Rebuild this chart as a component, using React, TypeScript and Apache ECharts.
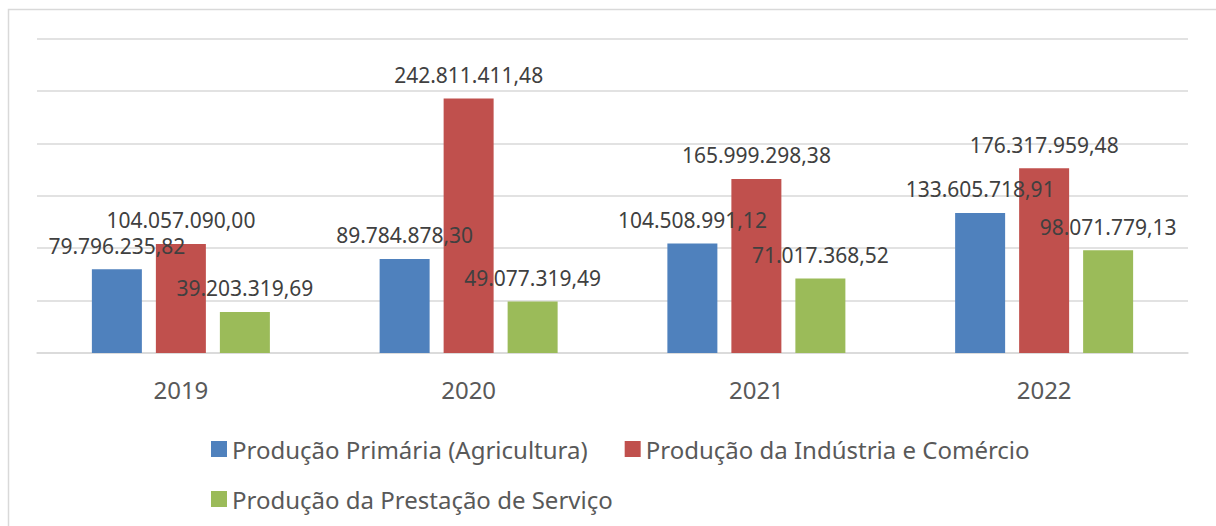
import React, { useEffect, useRef } from "react";
import * as echarts from "echarts";

const categories = ["2019", "2020", "2021", "2022"];
const seriesNames = [
  "Produção Primária (Agricultura)",
  "Produção da Indústria e Comércio",
  "Produção da Prestação de Serviço",
];
const primaria = [79796235.82, 89784878.3, 104508991.12, 133605718.91];
const industria = [104057090.0, 242811411.48, 165999298.38, 176317959.48];
const servico = [39203319.69, 49077319.49, 71017368.52, 98071779.13];
const colors = ["#4f81bd", "#c0504d", "#9bbb59"];

const FONT = "'Noto Sans', sans-serif";

function fmtBR(v: number): string {
  const fixed = v.toFixed(2);
  const [intPart, dec] = fixed.split(".");
  const withDots = intPart.replace(/\B(?=(\d{3})+(?!\d))/g, ".");
  return withDots + "," + dec;
}

export default function App() {
  const ref = useRef<HTMLDivElement>(null);
  useEffect(() => {
    if (!ref.current) return;
    const chart = echarts.init(ref.current, undefined, { renderer: "svg" });
    const datas = [primaria, industria, servico];
    chart.setOption({
      animation: false,
      backgroundColor: "#ffffff",
      textStyle: { fontFamily: FONT },
      graphic: [
        {
          type: "rect",
          shape: { x: 8.5, y: 9.5, width: 1230, height: 540 },
          style: { fill: "none", stroke: "#d9d9d9", lineWidth: 1.5 },
          silent: true,
          z: -10,
        },
      ],
      grid: { left: 37, right: 28, top: 38.5, bottom: 173 },
      xAxis: {
        type: "category",
        data: categories,
        axisLine: { show: true, lineStyle: { color: "#d9d9d9", width: 1.5 } },
        axisTick: { show: false },
        axisLabel: { color: "#595959", fontSize: 24, margin: 24, fontFamily: FONT },
      },
      yAxis: {
        type: "value",
        min: 0,
        max: 300000000,
        interval: 50000000,
        axisLabel: { show: false },
        axisLine: { show: false },
        axisTick: { show: false },
        splitLine: { lineStyle: { color: "#d9d9d9", width: 1.5 } },
      },
      legend: [
        {
          data: [seriesNames[0], seriesNames[1]],
          left: 206,
          top: 432,
          itemWidth: 16,
          itemHeight: 16,
          itemGap: 37,
          icon: "rect",
          textStyle: { color: "#595959", fontSize: 24, fontFamily: FONT },
        },
        {
          data: [seriesNames[2]],
          left: 206,
          top: 482,
          itemWidth: 16,
          itemHeight: 16,
          icon: "rect",
          textStyle: { color: "#595959", fontSize: 24, fontFamily: FONT },
        },
      ],
      series: datas.map((d, i) => ({
        name: seriesNames[i],
        type: "bar",
        data: d,
        barWidth: 50,
        barGap: "28%",
        itemStyle: { color: colors[i] },
        label: {
          show: true,
          position: "top",
          distance: 13,
          color: "#404040",
          fontSize: 21,
          fontFamily: FONT,
          formatter: (p: any) => fmtBR(p.value),
        },
      })),
    });
    return () => chart.dispose();
  }, []);
  return (
    <div
      ref={ref}
      style={{ position: "fixed", left: 0, top: 0, width: 1216, height: 526 }}
    />
  );
}
